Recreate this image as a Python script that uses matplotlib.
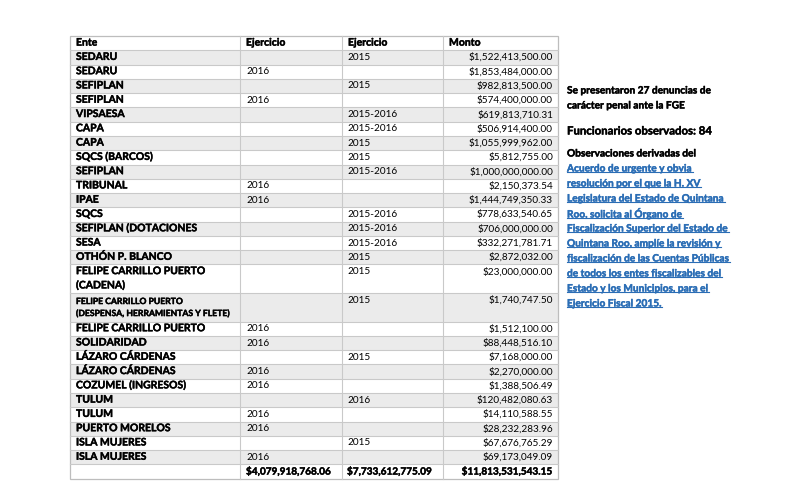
import matplotlib
matplotlib.use("Agg")
import matplotlib.pyplot as plt
import matplotlib.patches as patches
import matplotlib.patheffects as pe

plt.rcParams['font.family'] = ['Lato', 'DejaVu Sans']

# datos de la tabla
encabezados = ["Ente", "Ejercicio", "Ejercicio", "Monto"]
entes = ["SEDARU", "SEDARU", "SEFIPLAN", "SEFIPLAN", "VIPSAESA", "CAPA", "CAPA",
         "SQCS (BARCOS)", "SEFIPLAN", "TRIBUNAL", "IPAE", "SQCS",
         "SEFIPLAN (DOTACIONES", "SESA", "OTHÓN P. BLANCO",
         "FELIPE CARRILLO PUERTO\n(CADENA)",
         "FELIPE CARRILLO PUERTO\n(DESPENSA, HERRAMIENTAS Y FLETE)",
         "FELIPE CARRILLO PUERTO", "SOLIDARIDAD", "LÁZARO CÁRDENAS",
         "LÁZARO CÁRDENAS", "COZUMEL (INGRESOS)", "TULUM", "TULUM",
         "PUERTO MORELOS", "ISLA MUJERES", "ISLA MUJERES"]
ejercicio_a = ["", "2016", "", "2016", "", "", "", "", "", "2016", "2016", "", "",
               "", "", "", "", "2016", "2016", "", "2016", "2016", "", "2016",
               "2016", "", "2016"]
ejercicio_b = ["2015", "", "2015", "", "2015-2016", "2015-2016", "2015", "2015",
               "2015-2016", "", "", "2015-2016", "2015-2016", "2015-2016", "2015",
               "2015", "2015", "", "", "2015", "", "", "2016", "", "", "2015", ""]
montos = [1522413500.00, 1853484000.00, 982813500.00, 574400000.00, 619813710.31,
          506914400.00, 1055999962.00, 5812755.00, 1000000000.00, 2150373.54,
          1444749350.33, 778633540.65, 706000000.00, 332271781.71, 2872032.00,
          23000000.00, 1740747.50, 1512100.00, 88448516.10, 7168000.00,
          2270000.00, 1388506.49, 120482080.63, 14110588.55, 28232283.96,
          67676765.29, 69173049.09]
totales = [4079918768.06, 7733612775.09, 11813531543.15]

nota_1 = ["Se presentaron 27 denuncias de", "carácter penal ante la FGE"]
nota_2 = "Funcionarios observados: 84"
nota_3 = "Observaciones derivadas del"
enlace = ["Acuerdo de urgente y obvia", "resolución por el que la H. XV",
          "Legislatura del Estado de Quintana", "Roo, solicita al Órgano de",
          "Fiscalización Superior del Estado de", "Quintana Roo, amplíe la revisión y",
          "fiscalización de las Cuentas Públicas", "de todos los entes fiscalizables del",
          "Estado y los Municipios, para el", "Ejercicio Fiscal 2015."]

fig = plt.figure(figsize=(8, 5), dpi=100)
ax = fig.add_axes([0, 0, 1, 1])
ax.set_xlim(0, 800)
ax.set_ylim(500, 0)
ax.axis('off')

# geometria
cols = [70, 240, 342, 443, 558]
top = 36
rh = 14.28
fs = 7.2
fsb = 7.5
gris = '#ebebeb'
linea = '#c9c9c9'
grueso = [pe.withStroke(linewidth=0.3, foreground='black')]

def moneda(v):
    return "${:,.2f}".format(v)

# encabezado
y = top
for j in range(4):
    ax.text(cols[j] + 6, y + rh / 2, encabezados[j], fontsize=fsb, weight='bold',
            va='center', path_effects=grueso)
ax.plot([cols[0], cols[-1]], [y + rh, y + rh], color=linea, lw=0.8)
y += rh

for i in range(len(entes)):
    n = entes[i].count('\n') + 1
    h = rh * n
    if i % 2 == 0:
        ax.add_patch(patches.Rectangle((cols[0], y), cols[-1] - cols[0], h,
                                       facecolor=gris, edgecolor='none', zorder=0))
    lineas = entes[i].split('\n')
    f_ente = fsb
    if len(entes[i]) > 40:
        f_ente = 6.2
    for k in range(len(lineas)):
        dy = rh / 2 + k * rh
        if f_ente < fsb:
            dy = 8.5 + k * 12
        ax.text(cols[0] + 6, y + dy, lineas[k], fontsize=f_ente, weight='bold',
                va='center', path_effects=grueso)
    ax.text(cols[1] + 6, y + rh / 2, ejercicio_a[i], fontsize=fs, va='center')
    ax.text(cols[2] + 5, y + rh / 2, ejercicio_b[i], fontsize=fs, va='center')
    ax.text(cols[-1] - 5, y + rh / 2, moneda(montos[i]), fontsize=fs, va='center', ha='right')
    ax.plot([cols[0], cols[-1]], [y + h, y + h], color=linea, lw=0.8)
    y += h

# totales
ht = 15
ax.text(cols[1] + 6, y + ht / 2, moneda(totales[0]), fontsize=fs, weight='bold',
        va='center', path_effects=grueso)
ax.text(cols[2] + 5, y + ht / 2, moneda(totales[1]), fontsize=fs, weight='bold',
        va='center', path_effects=grueso)
ax.text(cols[-1] - 5, y + ht / 2, moneda(totales[2]), fontsize=fs, weight='bold',
        va='center', ha='right', path_effects=grueso)
y += ht

# bordes y columnas
for x in cols[1:-1]:
    ax.plot([x, x], [top, y], color=linea, lw=0.8)
ax.add_patch(patches.Rectangle((cols[0], top), cols[-1] - cols[0], y - top,
                               facecolor='none', edgecolor='#bdbdbd', lw=0.9))

# notas a la derecha
xn = 567
ax.text(xn, 91, nota_1[0], fontsize=7.3, weight='bold', va='center', path_effects=grueso)
ax.text(xn, 106, nota_1[1], fontsize=7.3, weight='bold', va='center', path_effects=grueso)
ax.text(xn, 131, nota_2, fontsize=8.2, weight='bold', va='center', path_effects=grueso)
ax.text(xn, 154, nota_3, fontsize=7.3, weight='bold', va='center', path_effects=grueso)

azul = '#2a6db5'
grueso_azul = [pe.withStroke(linewidth=0.3, foreground=azul)]
textos_enlace = []
for k in range(len(enlace)):
    t = ax.text(xn, 169 + k * 15, enlace[k], fontsize=7.3, weight='bold',
                va='center', color=azul, path_effects=grueso_azul)
    textos_enlace.append(t)

fig.canvas.draw()
r = fig.canvas.get_renderer()
inv = ax.transData.inverted()
for t in textos_enlace:
    bb = t.get_window_extent(renderer=r)
    (x0, y0), (x1, y1) = inv.transform([(bb.x0, bb.y0), (bb.x1, bb.y0)])
    ax.plot([x0, x1], [y0 - 1.2, y1 - 1.2], color=azul, lw=0.8)

fig.savefig('out.png', dpi=100)
